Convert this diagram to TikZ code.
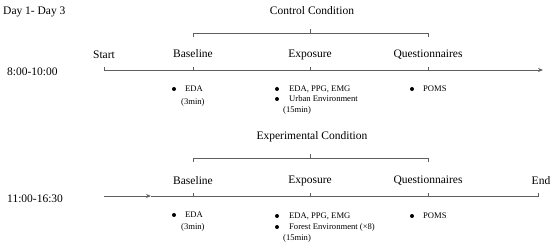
\documentclass[tikz,border=0pt]{standalone}
\usepackage{fontspec}
\setmainfont{Liberation Serif}
\usetikzlibrary{arrows.meta,calc}
\definecolor{linegray}{RGB}{95,95,95}
\tikzset{
  x=1pt,y=-1pt,
  tl/.style={draw=linegray,line width=0.8pt},
  lbl/.style={inner sep=0pt,font=\fontsize{11.5}{13}\selectfont},
  small/.style={inner sep=0pt,anchor=west,font=\fontsize{8.6}{10}\selectfont},
  dot/.style={circle,fill=black,inner sep=0pt,minimum size=4pt},
  tip/.style={-{Stealth[length=5pt,width=4pt]}},
}
\begin{document}
\begin{tikzpicture}
\useasboundingbox (0,0) rectangle (550,248);
% ---------- top ----------
\node[lbl,anchor=west] (day) at (3,12) {Day 1- Day 3};
\node[lbl] (ctrl) at (312,11) {Control Condition};
\node[lbl,anchor=west] (t1) at (7,72) {8:00-10:00};
\coordinate (s1) at (104,70);
\coordinate (b1) at (193,70);
\coordinate (x1) at (310,70);
\coordinate (q1) at (428,70);
\coordinate (e1) at (543,70);
\draw[tl,tip] (s1) -- (e1);
\draw[tl] (s1) -- ++(0,-3);
\draw[tl] (b1) -- ++(0,-3);
\draw[tl] (x1) -- ++(0,-3);
\draw[tl] (q1) -- ++(0,-3);
\node[lbl] (start) at (104,55) {Start};
\node[lbl] (base1) at (193,54) {Baseline};
\node[lbl] (exp1) at (310,55) {Exposure};
\node[lbl] (ques1) at (428,55) {Questionnaires};
% bracket
\coordinate (bl1) at (193,33);
\coordinate (br1) at (428,33);
\coordinate (bm1) at (310,33);
\draw[tl] ($(bl1)+(0,4)$) -- (bl1) -- (br1) -- ++(0,4);
\draw[tl] (bm1) -- ++(0,-4);
% items
\node[dot] (d1) at (174,89) {};
\node[small] (eda1) at (185,89) {EDA};
\node[small] (m1) at (181,102) {(3min)};
\node[dot] (d2) at (277,89) {};
\node[small] (sig1) at (289,89) {EDA, PPG, EMG};
\node[dot] (d3) at (277,99) {};
\node[small] (urb) at (289,99) {Urban Environment};
\node[small] (m2) at (283,110) {(15min)};
\node[dot] (d4) at (412,89) {};
\node[small] (poms1) at (423,89) {POMS};
% ---------- bottom ----------
\node[lbl] (expc) at (312,137) {Experimental Condition};
\node[lbl,anchor=west] (t2) at (7,199) {11:00-16:30};
\coordinate (s2) at (104,196);
\coordinate (a2) at (151,196);
\coordinate (b2) at (193,196);
\coordinate (x2) at (310,196);
\coordinate (q2) at (428,196);
\coordinate (e2) at (538,196);
\draw[tl,tip] (s2) -- (a2);
\draw[tl] (a2) -- (e2) -- ++(0,-3);
\draw[tl] (b2) -- ++(0,-3);
\draw[tl] (x2) -- ++(0,-3);
\draw[tl] (q2) -- ++(0,-3);
\node[lbl] (base2) at (193,181) {Baseline};
\node[lbl] (exp2) at (310,181) {Exposure};
\node[lbl] (ques2) at (428,181) {Questionnaires};
\node[lbl] (endl) at (541,181) {End};
\coordinate (bl2) at (193,158);
\coordinate (br2) at (428,158);
\coordinate (bm2) at (310,158);
\draw[tl] ($(bl2)+(0,4)$) -- (bl2) -- (br2) -- ++(0,4);
\draw[tl] (bm2) -- ++(0,-4);
\node[dot] (d5) at (174,215) {};
\node[small] (eda2) at (185,215) {EDA};
\node[small] (m3) at (181,227) {(3min)};
\node[dot] (d6) at (277,216) {};
\node[small] (sig2) at (289,216) {EDA, PPG, EMG};
\node[dot] (d7) at (277,227) {};
\node[small] (for) at (289,227) {Forest Environment (×8)};
\node[small] (m4) at (283,238) {(15min)};
\node[dot] (d8) at (412,216) {};
\node[small] (poms2) at (423,216) {POMS};
\end{tikzpicture}
\end{document}
